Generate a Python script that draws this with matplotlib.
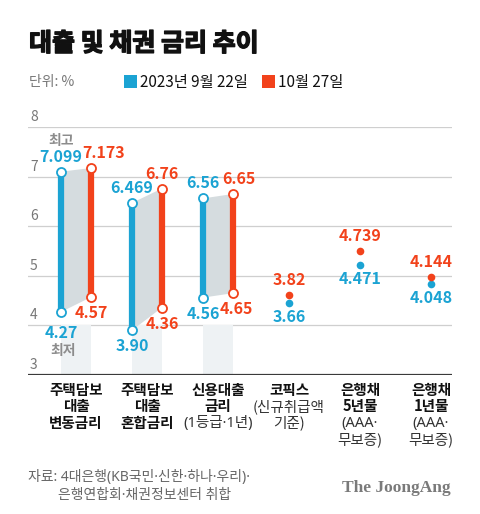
import matplotlib
matplotlib.use('Agg')
import matplotlib.pyplot as plt
import matplotlib.transforms as mtransforms
import matplotlib.patheffects as pe
from matplotlib.patches import Rectangle

plt.rcParams['font.family'] = ['Noto Sans CJK KR', 'DejaVu Sans']
MIXED = ['Noto Sans', 'Noto Sans CJK KR']  # narrow middle dot, Hangul from CJK

# ---------------- data ----------------
title = "대출 및 채권 금리 추이"
unit_label = "단위: %"
legend_labels = ["2023년 9월 22일", "10월 27일"]

cat_lines = [
    ["주택담보", "대출", "변동금리"],
    ["주택담보", "대출", "혼합금리"],
    ["신용대출", "금리", "(1등급·1년)"],
    ["코픽스", "(신규취급액", "기준)"],
    ["은행채", "5년물", "(AAA·", "무보증)"],
    ["은행채", "1년물", "(AAA·", "무보증)"],
]
cat_bold_lines = [3, 3, 2, 1, 2, 2]

# range groups (first three categories)
sep_high = [7.099, 6.469, 6.56]
sep_low = [4.27, 3.90, 4.56]
oct_high = [7.173, 6.76, 6.65]
oct_low = [4.57, 4.36, 4.65]
sep_high_lab = ["7.099", "6.469", "6.56"]
sep_low_lab = ["4.27", "3.90", "4.56"]
oct_high_lab = ["7.173", "6.76", "6.65"]
oct_low_lab = ["4.57", "4.36", "4.65"]

# single-point groups (last three categories): positions as drawn in the picture
dot_sep = [4.45, 5.22, 4.83]
dot_oct = [4.61, 5.50, 4.98]
dot_sep_lab = ["3.66", "4.471", "4.048"]
dot_oct_lab = ["3.82", "4.739", "4.144"]

yticks = [3, 4, 5, 6, 7, 8]
source_lines = ["자료: 4대은행(KB국민·신한·하나·우리)·", "은행연합회·채권정보센터 취합"]
brand = "The JoongAng"

# ---------------- style ----------------
BLUE = "#1ba3d3"
RED = "#f2421b"
POLY = "#d5dcdf"
LIGHT = "#eef2f4"
GRID = "#cfcfcf"

W, H = 480, 514
fig = plt.figure(figsize=(W / 100, H / 100), dpi=100)
fig.patch.set_facecolor("white")


def fx(px):
    return px / W


def fy(py):
    return 1 - py / H


ax = fig.add_axes([fx(28), fy(375), fx(452) - fx(28), fy(127) - fy(375)])
ax.set_xlim(-0.676, 5.296)
ax.set_ylim(3, 8)
ax.axis("off")

for v in yticks[1:]:
    ax.axhline(v, color=GRID, lw=0.9, zorder=0)
ax.axhline(yticks[0], color="#3a3a3a", lw=1.6, zorder=5)
for v in yticks:
    ax.annotate(str(v), xy=(0, v), xycoords=("axes fraction", "data"),
                xytext=(2, 3), textcoords="offset pixels",
                ha="left", va="bottom", fontsize=10, color="#777777")

dx = 15 / 71.0
for i in range(len(sep_high)):
    xb, xr = i - dx, i + dx
    ax.fill_between([xb, xr], 3, 4, color=LIGHT, lw=0, zorder=0.5)
    ax.fill([xb, xb, xr, xr], [sep_low[i], sep_high[i], oct_high[i], oct_low[i]],
            color=POLY, lw=0, zorder=1)
    ax.plot([xb, xb], [sep_low[i], sep_high[i]], color=BLUE, lw=4.5,
            solid_capstyle="butt", zorder=3)
    ax.plot([xr, xr], [oct_low[i], oct_high[i]], color=RED, lw=4.5,
            solid_capstyle="butt", zorder=3)
    ax.plot([xb, xb], [sep_low[i], sep_high[i]], "o", ms=6.5, mfc="white",
            mec=BLUE, mew=1.3, zorder=4)
    ax.plot([xr, xr], [oct_low[i], oct_high[i]], "o", ms=6.5, mfc="white",
            mec=RED, mew=1.3, zorder=4)

hi_xoff_oct = [13, 0, 6]
lo_xoff_oct = [0, 0, 3]
lo_yoff_sep = [21, 16, 16]
lab_kw = dict(textcoords="offset pixels", ha="center", va="center",
              fontsize=11.5, fontweight="bold", zorder=6)
for i in range(len(sep_high)):
    xb, xr = i - dx, i + dx
    ax.annotate(sep_high_lab[i], (xb, sep_high[i]), xytext=(0, 15), color=BLUE, **lab_kw)
    ax.annotate(oct_high_lab[i], (xr, oct_high[i]), xytext=(hi_xoff_oct[i], 15), color=RED, **lab_kw)
    ax.annotate(sep_low_lab[i], (xb, sep_low[i]), xytext=(0, -lo_yoff_sep[i]), color=BLUE, **lab_kw)
    ax.annotate(oct_low_lab[i], (xr, oct_low[i]), xytext=(lo_xoff_oct[i], -16), color=RED, **lab_kw)

ax.annotate("최고", (-dx, sep_high[0]), xytext=(0, 31), textcoords="offset pixels",
            ha="center", va="center", fontsize=10, fontweight="bold", color="#8c8c8c")
ax.annotate("최저", (-dx, sep_low[0]), xytext=(2, -39), textcoords="offset pixels",
            ha="center", va="center", fontsize=10, fontweight="bold", color="#8c8c8c")

for j in range(len(dot_sep)):
    x = 3 + j
    ax.plot([x], [dot_sep[j]], "o", ms=5.5, color=BLUE, mec="none", zorder=4)
    ax.plot([x], [dot_oct[j]], "o", ms=5.5, color=RED, mec="none", zorder=4)
    ax.annotate(dot_oct_lab[j], (x, dot_oct[j]), xytext=(0, 15), color=RED, **lab_kw)
    ax.annotate(dot_sep_lab[j], (x, dot_sep[j]), xytext=(0, -14), color=BLUE, **lab_kw)

# category labels
btr = mtransforms.blended_transform_factory(ax.transData, fig.transFigure)
for i, lines in enumerate(cat_lines):
    for k, t in enumerate(lines):
        bold = k < cat_bold_lines[i]
        fig.text(i, fy(390 + 16.5 * k), t, transform=btr, ha="center", va="center",
                 fontsize=10.5, fontweight="bold" if bold else "normal",
                 family=MIXED if "·" in t else None,
                 color="#111111" if bold else "#333333")

# title / legend
fig.text(fx(29), fy(44), title, ha="left", va="center", fontsize=18,
         fontweight="bold", color="#111111",
         path_effects=[pe.withStroke(linewidth=1.0, foreground="#111111")])
fig.text(fx(29), fy(82), unit_label, ha="left", va="center", fontsize=10, color="#777777")
for (x0, col, lab) in [(124, BLUE, legend_labels[0]), (262, RED, legend_labels[1])]:
    fig.patches.append(Rectangle((fx(x0), fy(88)), 13 / W, 13 / H, transform=fig.transFigure,
                                 facecolor=col, edgecolor="none"))
    fig.text(fx(x0 + 16), fy(82), lab, ha="left", va="center", fontsize=11, color="#111111")

# source / brand
fig.text(fx(28), fy(477), source_lines[0], ha="left", va="center", fontsize=10,
         family=MIXED, color="#666666")
fig.text(fx(58), fy(495), source_lines[1], ha="left", va="center", fontsize=10,
         family=MIXED, color="#666666")
fig.text(fx(451), fy(488), brand, ha="right", va="center", fontsize=12.5,
         fontweight="bold", family="Liberation Serif", color="#7a7a7a")

fig.savefig("out.png", dpi=100, facecolor="white")
